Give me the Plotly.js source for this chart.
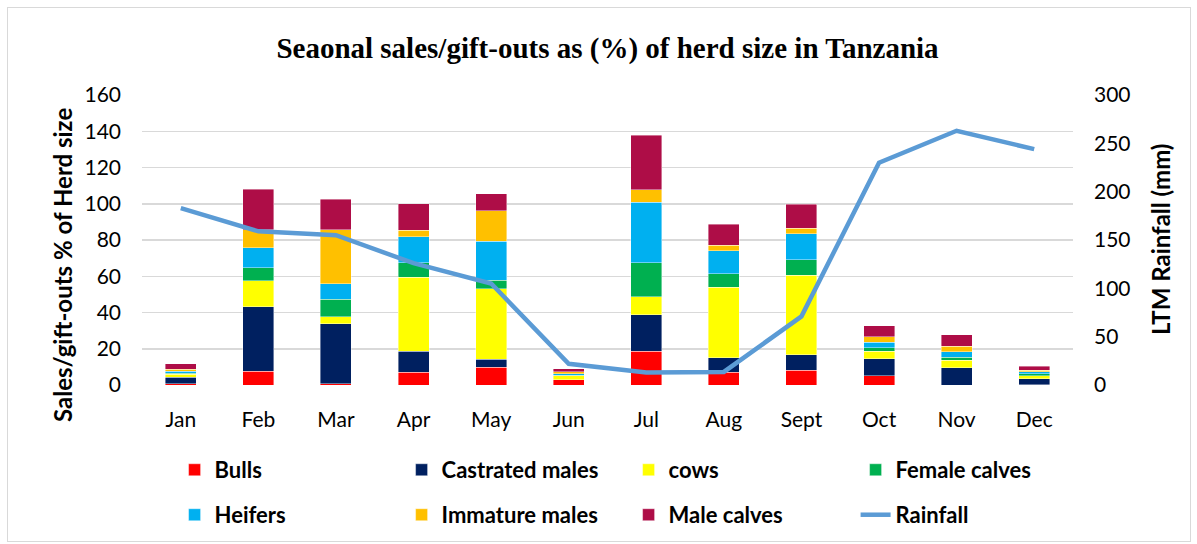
<!DOCTYPE html>
<html>
<head>
<meta charset="utf-8">
<script src="https://cdn.plot.ly/plotly-3.0.1.min.js"></script>
<style>
  html, body { margin: 0; padding: 0; background: #fff; }
  #chart { width: 1197px; height: 544px; }
  #frame { position: absolute; left: 7px; top: 7px; width: 1182px; height: 533px; border: 1px solid #D9D9D9; pointer-events: none; }
</style>
</head>
<body>
<div id="chart"></div>
<div id="frame"></div>
<script>
const months = ["Jan", "Feb", "Mar", "Apr", "May", "Jun", "Jul", "Aug", "Sept", "Oct", "Nov", "Dec"];
const bulls         = [0.6, 7.7, 0.6, 7.0, 9.9, 2.8, 18.7, 7.0, 8.1, 5.0, 0.0, 0.2];
const castrated     = [3.7, 35.6, 33.2, 11.7, 4.4, 0.2, 20.0, 7.9, 8.6, 9.5, 9.5, 3.3];
const cows          = [1.6, 14.3, 3.8, 40.8, 38.7, 2.0, 9.9, 39.1, 43.9, 4.0, 4.1, 1.5];
const femaleCalves  = [0.7, 7.0, 9.8, 7.9, 4.8, 0.4, 18.9, 7.3, 8.4, 2.1, 1.8, 1.1];
const heifers       = [1.1, 11.0, 8.4, 14.3, 21.5, 0.8, 33.3, 12.9, 14.5, 3.1, 3.0, 1.1];
const immatureMales = [1.1, 10.1, 29.9, 3.8, 16.9, 1.1, 6.9, 2.9, 3.1, 2.9, 3.1, 0.9];
const maleCalves    = [2.8, 22.2, 16.7, 14.4, 9.3, 1.6, 30.1, 11.7, 13.1, 6.1, 6.2, 2.2];
const rainfall      = [183, 159, 155, 126, 105, 22, 13, 13.5, 71, 230, 263, 244];

const seriesNames = ["Bulls", "Castrated males", "cows", "Female calves", "Heifers", "Immature males", "Male calves"];
const seriesData = [bulls, castrated, cows, femaleCalves, heifers, immatureMales, maleCalves];
const seriesColors = ["#FF0000", "#002060", "#FFFF00", "#00B050", "#00B0F0", "#FFC000", "#AE0D47"];

const traces = seriesData.map((vals, i) => ({
  type: "bar",
  name: seriesNames[i],
  x: months,
  y: vals,
  marker: { color: seriesColors[i], line: { color: "rgba(255,255,255,0.55)", width: 0.75 } },
  legend: i < 4 ? "legend" : "legend2",
  hoverinfo: "x+y+name"
}));

traces.push({
  type: "scatter",
  mode: "lines",
  name: "Rainfall",
  x: months,
  y: rainfall,
  yaxis: "y2",
  line: { color: "#5B9BD5", width: 4.5 },
  legend: "legend2"
});

const tickFont = { family: "Lato, 'Open Sans', sans-serif", size: 21, color: "#000" };
const legFont = { family: "Lato, 'Open Sans', sans-serif", size: 22, color: "#000", weight: "bold" };
const axTitleFont = { family: "Lato, 'Open Sans', sans-serif", size: 24, color: "#000" };

const layout = {
  width: 1197,
  height: 544,
  margin: { l: 142, r: 124, t: 95, b: 159, pad: 0, autoexpand: false },
  paper_bgcolor: "#fff",
  plot_bgcolor: "#fff",
  barmode: "stack",
  bargap: 0.6,
  showlegend: true,
  title: {
    text: "<b>Seaonal sales/gift-outs as (%) of herd size in Tanzania</b>",
    font: { family: "'Liberation Serif', 'Times New Roman', serif", size: 29, color: "#000" },
    x: 0.5, xref: "paper", xanchor: "center",
    y: 45, yref: "container", yanchor: "middle"
  },
  xaxis: {
    type: "category",
    tickfont: tickFont,
    showgrid: false,
    showline: false,
    ticks: "",
    ticklabelstandoff: 20,
    fixedrange: true
  },
  yaxis: {
    range: [0, 160],
    dtick: 20,
    tickfont: tickFont,
    showgrid: true,
    gridcolor: "#D9D9D9",
    gridwidth: 1.5,
    zeroline: false,
    showline: false,
    ticks: "",
    ticklabelstandoff: 20,
    fixedrange: true
  },
  yaxis2: {
    overlaying: "y",
    side: "right",
    range: [0, 300],
    dtick: 50,
    tickfont: tickFont,
    showgrid: false,
    zeroline: false,
    showline: false,
    ticks: "",
    ticklabelstandoff: 20,
    fixedrange: true
  },
  legend: {
    orientation: "h",
    x: 0.035, xanchor: "left",
    y: -0.293, yanchor: "middle",
    font: legFont,
    entrywidth: 182,
    entrywidthmode: "pixels",
    traceorder: "normal",
    bgcolor: "rgba(0,0,0,0)"
  },
  legend2: {
    orientation: "h",
    x: 0.035, xanchor: "left",
    y: -0.448, yanchor: "middle",
    font: legFont,
    entrywidth: 182,
    entrywidthmode: "pixels",
    traceorder: "normal",
    bgcolor: "rgba(0,0,0,0)"
  },
  annotations: [
    {
      text: "<b>Sales/gift-outs % of Herd size</b>",
      textangle: -90,
      xref: "paper", yref: "paper",
      x: 0, y: 0.5, xanchor: "center", yanchor: "middle",
      xshift: -80, yshift: -25,
      showarrow: false,
      font: axTitleFont
    },
    {
      text: "<b>LTM Rainfall (mm)</b>",
      textangle: -90,
      xref: "paper", yref: "paper",
      x: 1, y: 0.5, xanchor: "center", yanchor: "middle",
      xshift: 87, yshift: 0,
      showarrow: false,
      font: axTitleFont
    }
  ]
};

Plotly.newPlot("chart", traces, layout, { displayModeBar: false, staticPlot: true });
</script>
</body>
</html>
